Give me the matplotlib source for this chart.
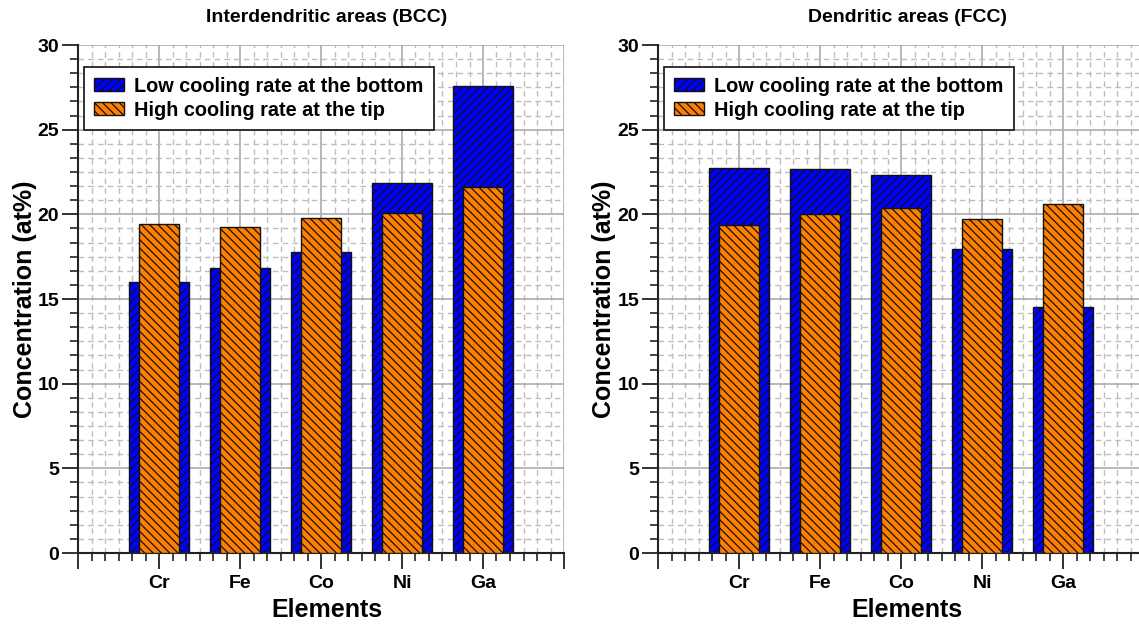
import matplotlib
matplotlib.use("Agg")
import matplotlib.pyplot as plt
from matplotlib.ticker import MultipleLocator, FixedLocator
import numpy as np

plt.rcParams['font.family'] = ['Liberation Sans', 'DejaVu Sans']
plt.rcParams['font.weight'] = 'bold'
plt.rcParams['hatch.linewidth'] = 0.9

elements = ['Cr', 'Fe', 'Co', 'Ni', 'Ga']

# Interdendritic areas (BCC)
bcc_low = [16.0, 16.85, 17.8, 21.85, 27.6]
bcc_high = [19.4, 19.25, 19.8, 20.1, 21.6]

# Dendritic areas (FCC)
fcc_low = [22.75, 22.65, 22.3, 17.95, 14.5]
fcc_high = [19.35, 20.0, 20.4, 19.7, 20.6]

label_low = 'Low cooling rate at the bottom'
label_high = 'High cooling rate at the tip'

W, H = 1139, 628
fig = plt.figure(figsize=(W / 100, H / 100), dpi=100)

panels = [
    (78, 'Interdendritic areas (BCC)', bcc_low, bcc_high, 327, 25),
    (658, 'Dendritic areas (FCC)', fcc_low, fcc_high, 907, 604),
]

x = np.arange(1, len(elements) + 1)

for left_px, title, low, high, cx, ylab_x in panels:
    ax = fig.add_axes([left_px / W, 75 / H, 486 / W, 508 / H])
    ax.set_axisbelow(True)

    ax.bar(x, low, width=0.75, color='#0000ff', edgecolor='#111111',
           linewidth=1.0, hatch='////', label=label_low, zorder=2)
    ax.bar(x, high, width=0.5, color='#ff8000', edgecolor='#111111',
           linewidth=1.0, hatch='\\\\\\\\', label=label_high, zorder=3)

    ax.set_xlim(0, 6)
    ax.set_ylim(0, 30)

    ax.xaxis.set_major_locator(FixedLocator(range(0, 7)))
    ax.set_xticklabels([''] + elements + [''])
    ax.xaxis.set_minor_locator(MultipleLocator(1 / 6))
    ax.yaxis.set_major_locator(MultipleLocator(5))
    ax.yaxis.set_minor_locator(MultipleLocator(5 / 6))

    ax.grid(which='major', color='#ababab', linewidth=1.2, linestyle='-')
    ax.grid(which='minor', color='#bdbdbd', linewidth=1.0, linestyle=(0, (4, 3)))
    ax.yaxis.get_major_ticks()[-1].gridline.set_visible(False)

    for s in ['top', 'right']:
        ax.spines[s].set_visible(False)
    for s in ['left', 'bottom']:
        ax.spines[s].set_linewidth(1.5)
        ax.spines[s].set_color('#222222')

    ax.tick_params(which='major', direction='out', length=11.5, width=1.3,
                   color='#222222', labelsize=14)
    ax.tick_params(which='minor', direction='out', length=6, width=1.2,
                   color='#222222')
    ax.tick_params(axis='x', which='major', pad=4)
    ax.tick_params(axis='y', which='major', pad=2)

    leg = ax.legend(loc='upper left', bbox_to_anchor=(0.012, 0.957),
                    borderaxespad=0, fancybox=False, framealpha=1,
                    edgecolor='#222222', prop={'size': 14.3, 'weight': 'bold'},
                    handlelength=1.5, handleheight=0.62, handletextpad=0.55,
                    labelspacing=0.25, borderpad=0.5)
    leg.get_frame().set_linewidth(1.3)

    fig.text(cx / W, 1 - 18 / H, title, ha='center', va='center',
             fontsize=14, fontweight='bold')
    fig.text(cx / W, 1 - 610 / H, 'Elements', ha='center', va='center',
             fontsize=18, fontweight='bold')
    fig.text(ylab_x / W, 1 - 299 / H, 'Concentration (at%)', ha='center',
             va='center', rotation=90, fontsize=18, fontweight='bold')

fig.savefig('out.png', dpi=100)
